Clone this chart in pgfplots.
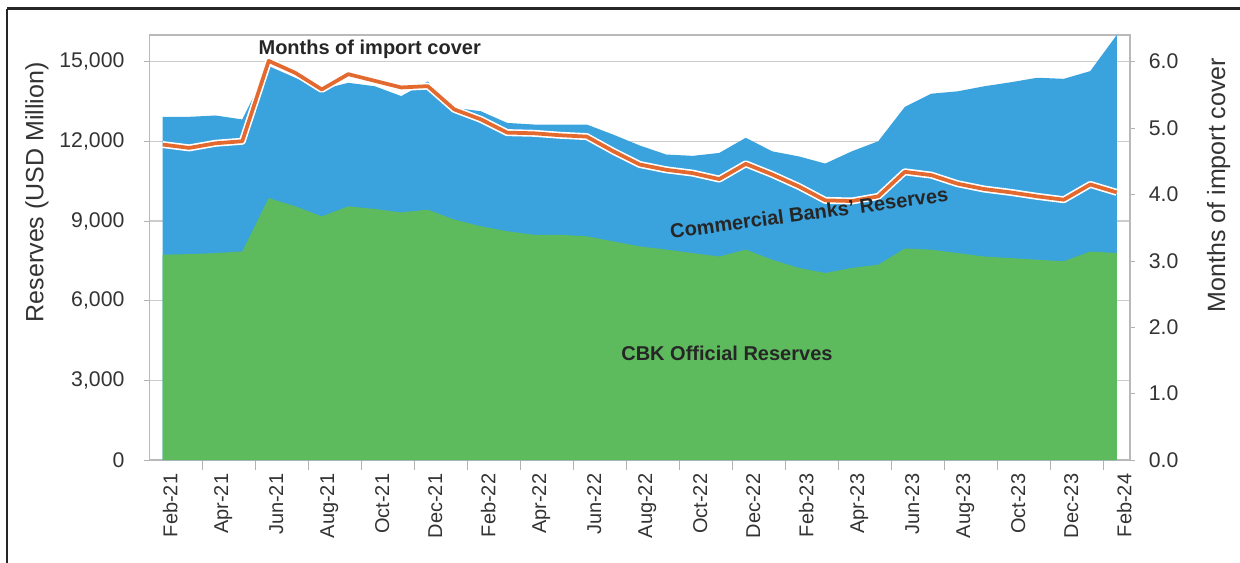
\documentclass[border=0pt]{standalone}
\usepackage{fontspec}
\setmainfont{Liberation Sans}
\usepackage{pgfplots}
\pgfplotsset{compat=1.18}
\definecolor{cbkgreen}{HTML}{5DBB5E}
\definecolor{cbblue}{HTML}{3AA2DD}
\definecolor{covorange}{HTML}{E4692F}
\definecolor{txt}{HTML}{333333}
\begin{document}
\begin{tikzpicture}
\useasboundingbox (0,0) rectangle (496pt,-225.2pt);
\draw[line width=1pt, black!85] (2.8pt,-3.4pt) -- (520pt,-3.4pt);
\draw[line width=1pt, black!85] (2.8pt,-3.4pt) -- (2.8pt,-240pt);
\pgfplotsset{
  mybase/.style={
    at={(59.8pt,-184pt)}, anchor=south west,
    scale only axis, width=392.2pt, height=170pt,
    xmin=-0.5, xmax=36.5,
    font=\fontsize{8}{9.6}\selectfont,
    /pgf/number format/assume math mode=true,
    tick label style={text=txt},
  }
}
\begin{axis}[mybase,
  ymin=0, ymax=16000,
  axis lines=box,
  axis line style={gray!55, line width=0.5pt},
  ytick={0,3000,6000,9000,12000,15000},
  scaled y ticks=false,
  y tick label style={/pgf/number format/fixed, /pgf/number format/1000 sep={,}, font=\fontsize{8.5}{10}\selectfont, xshift=-4.5pt},
  ymajorgrids, grid style={gray!40, line width=0.5pt},
  ytick style={gray!60}, tick align=outside, major tick length=2pt,
  ytick pos=left,
  xtick={0,2,...,36},
  xticklabels={Feb-21,Apr-21,Jun-21,Aug-21,Oct-21,Dec-21,Feb-22,Apr-22,Jun-22,Aug-22,Oct-22,Dec-22,Feb-23,Apr-23,Jun-23,Aug-23,Oct-23,Dec-23,Feb-24},
  xticklabel style={rotate=90, anchor=east, yshift=-3pt},
  xtick style={draw=none},
  xtick pos=bottom,
  extra x ticks={1.5,3.5,...,35.5},
  extra x tick labels={},
  extra x tick style={xtick style={draw=gray!60}, major tick length=4pt, xmajorgrids=false},
  ylabel={Reserves (USD Million)},
  every axis y label/.style={at={(axis description cs:0,0.63)}, xshift=-45pt, rotate=90, anchor=center, text=txt, font=\fontsize{10}{12}\selectfont},
]
\addplot[fill=cbblue, draw=none] coordinates {
(0,12920) (1,12920) (2,12970) (3,12820) (4,14830) (5,14390) (6,13950) (7,14200) (8,14070) (9,13700)
(10,14250) (11,13260) (12,13130) (13,12690) (14,12630) (15,12630) (16,12630) (17,12250) (18,11840) (19,11500)
(20,11450) (21,11560) (22,12130) (23,11620) (24,11430) (25,11160) (26,11620) (27,12000) (28,13290) (29,13790)
(30,13880) (31,14070) (32,14220) (33,14390) (34,14350) (35,14640) (36,16000)
} \closedcycle;
\addplot[fill=cbkgreen, draw=none] coordinates {
(0,7730) (1,7750) (2,7790) (3,7850) (4,9860) (5,9550) (6,9170) (7,9550) (8,9450) (9,9320)
(10,9425) (11,9050) (12,8800) (13,8610) (14,8480) (15,8480) (16,8420) (17,8230) (18,8040) (19,7920)
(20,7790) (21,7660) (22,7920) (23,7540) (24,7230) (25,7040) (26,7230) (27,7350) (28,7960) (29,7920)
(30,7790) (31,7660) (32,7600) (33,7540) (34,7480) (35,7850) (36,7790)
} \closedcycle;
\end{axis}
\begin{axis}[mybase,
  ymin=0, ymax=6.4,
  axis x line=none,
  axis y line*=right,
  axis line style={gray!55, line width=0.5pt},
  ytick={0,1,...,6},
  y tick label style={/pgf/number format/fixed, /pgf/number format/fixed zerofill, /pgf/number format/precision=1, font=\fontsize{8.5}{10}\selectfont, xshift=2pt},
  ytick style={gray!60}, tick align=outside, major tick length=2pt,
  ylabel={Months of import cover},
  every axis y label/.style={at={(axis description cs:1,0.647)}, xshift=35.5pt, rotate=90, anchor=center, text=txt, font=\fontsize{10}{12}\selectfont},
]
\addplot[white, line width=2.8pt, line join=round] coordinates {
(0,4.75) (1,4.70) (2,4.77) (3,4.80) (4,6.01) (5,5.83) (6,5.58) (7,5.81) (8,5.71) (9,5.61)
(10,5.63) (11,5.28) (12,5.13) (13,4.93) (14,4.92) (15,4.89) (16,4.87) (17,4.65) (18,4.45) (19,4.37)
(20,4.32) (21,4.23) (22,4.46) (23,4.30) (24,4.12) (25,3.91) (26,3.90) (27,3.97) (28,4.34) (29,4.29)
(30,4.16) (31,4.08) (32,4.03) (33,3.97) (34,3.92) (35,4.15) (36,4.03)
};
\addplot[covorange, line width=1.5pt, line join=round] coordinates {
(0,4.75) (1,4.70) (2,4.77) (3,4.80) (4,6.01) (5,5.83) (6,5.58) (7,5.81) (8,5.71) (9,5.61)
(10,5.63) (11,5.28) (12,5.13) (13,4.93) (14,4.92) (15,4.89) (16,4.87) (17,4.65) (18,4.45) (19,4.37)
(20,4.32) (21,4.23) (22,4.46) (23,4.30) (24,4.12) (25,3.91) (26,3.90) (27,3.97) (28,4.34) (29,4.29)
(30,4.16) (31,4.08) (32,4.03) (33,3.97) (34,3.92) (35,4.15) (36,4.03)
};
\node[font=\fontsize{8}{9.6}\selectfont\bfseries, text=black!85] at (axis cs:7.81,6.18) {Months of import cover};
\node[font=\fontsize{8}{9.6}\selectfont\bfseries, text=black!85, rotate=7.7] at (axis cs:24.39,3.72) {Commercial Banks' Reserves};
\node[font=\fontsize{8}{9.6}\selectfont\bfseries, text=black!85] at (axis cs:21.29,1.60) {CBK Official Reserves};
\end{axis}
\end{tikzpicture}
\end{document}
